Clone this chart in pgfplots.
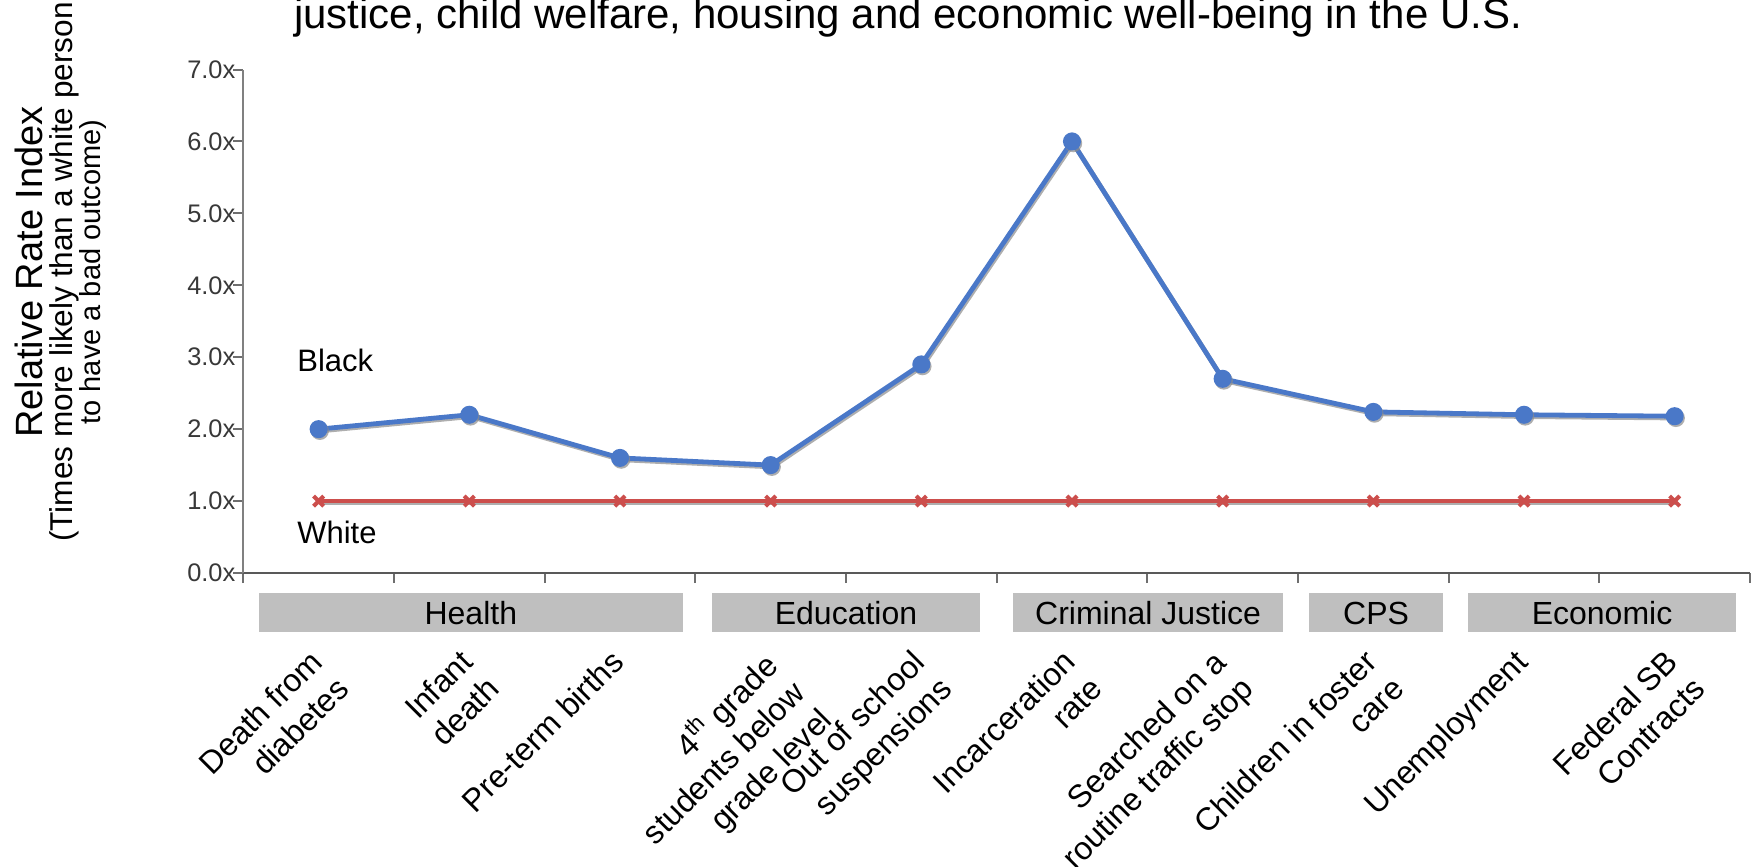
\documentclass[border=0pt]{standalone}
\usepackage{fontspec}
\setmainfont{Liberation Sans}
\usepackage{pgfplots}
\pgfplotsset{compat=1.18}
\definecolor{bl}{HTML}{4A78C8}
\definecolor{rd}{HTML}{CC4E4C}
\definecolor{boxg}{HTML}{BFBFBF}
\definecolor{axg}{HTML}{6E6E6E}
\begin{document}
\begin{tikzpicture}
\begin{axis}[
  scale only axis, width=753.35pt, height=251.75pt,
  xmin=-0.5, xmax=9.5, ymin=0, ymax=7,
  axis lines*=left,
  axis line style={axg, line width=1.1pt},
  x axis line style={black!65},
  y axis line style={black!50},
  tick align=outside,
  major tick length=5pt,
  tick style={axg, line width=1pt},
  xtick={-0.5,0.5,1.5,2.5,3.5,4.5,5.5,6.5,7.5,8.5,9.5},
  xticklabels={},
  ytick={0,1,2,3,4,5,6,7},
  yticklabels={0.0x,1.0x,2.0x,3.0x,4.0x,5.0x,6.0x,7.0x},
  yticklabel style={font=\fontsize{12.7}{14}\selectfont, text=black!78, inner sep=0pt, xshift=1.2pt},
  extra x ticks={0,1,2,3,4,5,6,7,8,9},
  extra x tick labels={{Death from\\diabetes},{Infant\\death},{Pre-term births},{4\textsuperscript{th} grade\\students below\\grade level},{Out of school\\suspensions},{Incarceration\\rate},{Searched on a\\routine traffic stop},{Children in foster\\care},{Unemployment},{Federal SB\\Contracts}},
  extra x tick style={tick style={draw=none}, xticklabel style={yshift=-27.5pt, xshift=-5.5pt, rotate=45, anchor=north east, align=right, font=\fontsize{16}{19}\selectfont}},
  clip=false,
]
\addplot[black!45, opacity=0.7, line width=2.4pt, xshift=0.6pt, yshift=-0.9pt, mark=*, mark size=3.3pt, forget plot] coordinates {
  (0,2.0) (1,2.2) (2,1.6) (3,1.5) (4,2.9) (5,6.0) (6,2.7) (7,2.24) (8,2.2) (9,2.18)};
\addplot[bl, line width=2.4pt, mark=*, mark size=3.3pt, mark options={fill=bl}] coordinates {
  (0,2.0) (1,2.2) (2,1.6) (3,1.5) (4,2.9) (5,6.0) (6,2.7) (7,2.24) (8,2.2) (9,2.18)};
\addplot[black!45, opacity=0.7, line width=2.4pt, xshift=0.6pt, yshift=-0.9pt, forget plot] coordinates {
  (0,1) (1,1) (2,1) (3,1) (4,1) (5,1) (6,1) (7,1) (8,1) (9,1)};
\addplot[rd, line width=2.4pt, mark=x, mark size=3.6pt, mark options={line width=2pt}] coordinates {
  (0,1) (1,1) (2,1) (3,1) (4,1) (5,1) (6,1) (7,1) (8,1) (9,1)};
\node[anchor=west, inner sep=0pt, font=\fontsize{15.5}{18}\selectfont] at (axis cs:-0.144,2.96) {Black};
\node[anchor=west, inner sep=0pt, font=\fontsize{15.5}{18}\selectfont] at (axis cs:-0.144,0.56) {White};
\fill[boxg] (axis cs:-0.396,-0.278) rectangle (axis cs:2.416,-0.82);
\fill[boxg] (axis cs:2.608,-0.278) rectangle (axis cs:4.392,-0.82);
\fill[boxg] (axis cs:4.611,-0.278) rectangle (axis cs:6.400,-0.82);
\fill[boxg] (axis cs:6.571,-0.278) rectangle (axis cs:7.465,-0.82);
\fill[boxg] (axis cs:7.626,-0.278) rectangle (axis cs:9.410,-0.82);
\node[inner sep=0pt, font=\fontsize{16}{19}\selectfont] at (axis cs:1.01,-0.56) {Health};
\node[inner sep=0pt, font=\fontsize{16}{19}\selectfont] at (axis cs:3.50,-0.56) {Education};
\node[inner sep=0pt, font=\fontsize{16}{19}\selectfont] at (axis cs:5.505,-0.56) {Criminal Justice};
\node[inner sep=0pt, font=\fontsize{16}{19}\selectfont] at (axis cs:7.018,-0.56) {CPS};
\node[inner sep=0pt, font=\fontsize{16}{19}\selectfont] at (axis cs:8.518,-0.56) {Economic};
\end{axis}
\node[anchor=base, inner sep=0pt, font=\fontsize{21}{25}\selectfont] at (332.35pt,272pt) {justice, child welfare, housing and economic well-being in the U.S.};
\node[rotate=90, inner sep=0pt, font=\fontsize{19}{22}\selectfont] at (-107pt,150.5pt) {Relative Rate Index};
\node[rotate=90, inner sep=0pt, font=\fontsize{15.8}{18}\selectfont] at (-89.5pt,150.5pt) {(Times more likely than a white person};
\node[rotate=90, inner sep=0pt, font=\fontsize{14.5}{17}\selectfont] at (-75pt,150.5pt) {to have a bad outcome)};
\pgfresetboundingbox
\path[use as bounding box] (-121.65pt,-147pt) rectangle (757.35pt,286.5pt);
\end{tikzpicture}
\end{document}
